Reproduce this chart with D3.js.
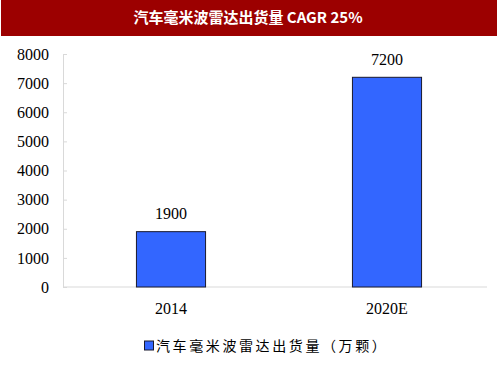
<!DOCTYPE html>
<html>
<head>
<meta charset="utf-8">
<script src="https://cdn.jsdelivr.net/npm/d3@7"></script>
<style>
  body { margin: 0; background: #fff; }
  svg { display: block; }
</style>
</head>
<body>
<div id="chart"></div>
<script>
// chart data
var titleText = "汽车毫米波雷达出货量 CAGR 25%";
var categories = ["2014", "2020E"];
var shipments = [1900, 7200];
var yTicks = [0, 1000, 2000, 3000, 4000, 5000, 6000, 7000, 8000];
var seriesName = "汽车毫米波雷达出货量（万颗）";

var width = 500, height = 375;
var serif = "'Liberation Serif', 'Times New Roman', serif";
var cjk = "'Noto Sans CJK SC', sans-serif";

var svg = d3.select("#chart")
        .append("svg")
        .attr("width", width)
        .attr("height", height);

// title banner
svg.append("rect")
        .attr("x", 1).attr("y", 0)
        .attr("width", 496).attr("height", 36)
        .attr("fill", "#9c0000");
svg.append("text")
        .attr("x", 248).attr("y", 18)
        .attr("dy", "0.36em")
        .attr("text-anchor", "middle")
        .attr("fill", "#fff")
        .style("font-family", cjk)
        .style("font-weight", "bold")
        .style("font-size", "15px")
        .text(titleText);

var x = d3.scaleBand()
        .domain(categories)
        .range([63, 495])
        .paddingInner(0.68)
        .paddingOuter(0.34);

var y = d3.scaleLinear()
        .domain([0, 8000])
        .range([287, 54]);

// y axis
var yAxis = svg.append("g")
        .attr("transform", "translate(63,0)")
        .call(d3.axisRight(y).tickValues(yTicks).tickSize(4).tickFormat(d3.format("d")));
yAxis.select(".domain").attr("stroke", "#d9d9d9");
yAxis.selectAll(".tick line").attr("stroke", "#d9d9d9");
yAxis.selectAll(".tick text")
        .attr("x", -14)
        .attr("text-anchor", "end")
        .attr("fill", "#000")
        .style("font-family", serif)
        .style("font-size", "16px");

// x axis baseline
svg.append("line")
        .attr("x1", 63).attr("x2", 487)
        .attr("y1", y(0)).attr("y2", y(0))
        .attr("stroke", "#d9d9d9");

svg.selectAll(".xlabel")
        .data(categories)
        .enter()
        .append("text")
        .attr("class", "xlabel")
        .attr("x", function(d) { return x(d) + x.bandwidth() / 2; })
        .attr("y", 308)
        .attr("dy", "0.35em")
        .attr("text-anchor", "middle")
        .style("font-family", serif)
        .style("font-size", "16px")
        .text(function(d) { return d; });

// bars
svg.selectAll(".bar")
        .data(shipments)
        .enter()
        .append("rect")
        .attr("class", "bar")
        .attr("x", function(d, i) { return x(categories[i]); })
        .attr("y", function(d) { return y(d); })
        .attr("width", x.bandwidth())
        .attr("height", function(d) { return y(0) - y(d); })
        .attr("fill", "#3366ff")
        .attr("stroke", "#1a1a2e")
        .attr("stroke-width", 1);

svg.selectAll(".value")
        .data(shipments)
        .enter()
        .append("text")
        .attr("class", "value")
        .attr("x", function(d, i) { return x(categories[i]) + x.bandwidth() / 2; })
        .attr("y", function(d) { return y(d) - 18; })
        .attr("dy", "0.35em")
        .attr("text-anchor", "middle")
        .style("font-family", serif)
        .style("font-size", "16px")
        .text(function(d) { return d; });

// legend
svg.append("rect")
        .attr("x", 144.5).attr("y", 341)
        .attr("width", 9).attr("height", 9)
        .attr("fill", "#3366ff")
        .attr("stroke", "#1a1a2e");
svg.append("text")
        .attr("x", 156).attr("y", 346)
        .attr("dy", "0.36em")
        .style("font-family", cjk)
        .style("font-size", "14px")
        .style("letter-spacing", "2.6px")
        .text(seriesName);
</script>
</body>
</html>
